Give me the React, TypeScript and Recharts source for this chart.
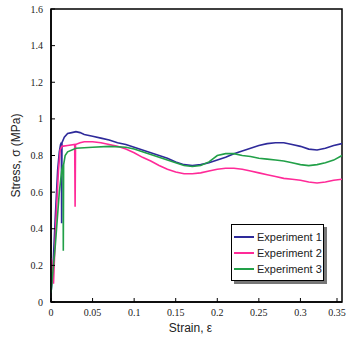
import { LineChart, Line, XAxis, YAxis, ReferenceArea, Label } from "recharts";

const seriesNames = ["Experiment 1", "Experiment 2", "Experiment 3"];
const seriesColors = ["#2e2a9a", "#ff2a98", "#22a048"];

const xTicks = [0, 0.025, 0.05, 0.075, 0.1, 0.125, 0.15, 0.175, 0.2, 0.225, 0.25, 0.275, 0.3, 0.325, 0.35];
const xLabels = ["0", "0.05", "0.1", "0.15", "0.2", "0.25", "0.3", "0.35"];
const yTicks = [0, 0.1, 0.2, 0.3, 0.4, 0.5, 0.6, 0.7, 0.8, 0.9, 1, 1.1, 1.2, 1.3, 1.4, 1.5, 1.6];
const yLabels = ["0", "0.2", "0.4", "0.6", "0.8", "1", "1.2", "1.4", "1.6"];

const exp1Strain = [0, 0.002, 0.005, 0.008, 0.01, 0.0115, 0.0125, 0.0128, 0.0132, 0.016, 0.02, 0.025, 0.03, 0.035, 0.04, 0.05, 0.06, 0.07, 0.08, 0.09, 0.1, 0.11, 0.12, 0.13, 0.14, 0.15, 0.16, 0.17, 0.18, 0.19, 0.2, 0.21, 0.22, 0.23, 0.24, 0.25, 0.26, 0.27, 0.28, 0.29, 0.3, 0.31, 0.32, 0.33, 0.34, 0.35];
const exp1Stress = [0.05, 0.15, 0.45, 0.72, 0.82, 0.86, 0.87, 0.43, 0.87, 0.9, 0.92, 0.925, 0.93, 0.925, 0.915, 0.905, 0.895, 0.885, 0.87, 0.86, 0.845, 0.83, 0.815, 0.8, 0.785, 0.765, 0.75, 0.745, 0.75, 0.76, 0.775, 0.79, 0.81, 0.825, 0.84, 0.855, 0.865, 0.87, 0.87, 0.86, 0.85, 0.835, 0.83, 0.84, 0.855, 0.865];

const exp2Strain = [0, 0.001, 0.003, 0.006, 0.009, 0.011, 0.013, 0.02, 0.0285, 0.029, 0.0295, 0.035, 0.04, 0.05, 0.06, 0.07, 0.08, 0.09, 0.1, 0.11, 0.12, 0.13, 0.14, 0.15, 0.16, 0.17, 0.18, 0.19, 0.2, 0.21, 0.22, 0.23, 0.24, 0.25, 0.26, 0.27, 0.28, 0.29, 0.3, 0.31, 0.32, 0.33, 0.34, 0.35];
const exp2Stress = [0.24, 0.22, 0.1, 0.45, 0.72, 0.83, 0.85, 0.855, 0.86, 0.52, 0.86, 0.87, 0.875, 0.875, 0.87, 0.86, 0.85, 0.835, 0.815, 0.79, 0.77, 0.745, 0.725, 0.71, 0.7, 0.7, 0.705, 0.715, 0.725, 0.73, 0.73, 0.725, 0.715, 0.705, 0.695, 0.685, 0.675, 0.67, 0.665, 0.655, 0.65, 0.655, 0.665, 0.67];

const exp3Strain = [0, 0.005, 0.01, 0.013, 0.0145, 0.0148, 0.0152, 0.017, 0.02, 0.03, 0.05, 0.07, 0.09, 0.1, 0.11, 0.12, 0.13, 0.14, 0.15, 0.16, 0.17, 0.18, 0.19, 0.2, 0.21, 0.22, 0.23, 0.24, 0.25, 0.26, 0.27, 0.28, 0.29, 0.3, 0.31, 0.32, 0.33, 0.34, 0.35];
const exp3Stress = [0.05, 0.3, 0.6, 0.72, 0.75, 0.28, 0.75, 0.8, 0.82, 0.84, 0.845, 0.85, 0.845, 0.835, 0.82, 0.805, 0.79, 0.775, 0.76, 0.745, 0.74, 0.745, 0.765, 0.8, 0.81, 0.81, 0.8, 0.795, 0.785, 0.78, 0.775, 0.77, 0.76, 0.75, 0.745, 0.75, 0.76, 0.775, 0.8];

const toRows = (xs: number[], ys: number[]) => xs.map((x, i) => ({ strain: x, stress: ys[i] }));
const series = [toRows(exp1Strain, exp1Stress), toRows(exp2Strain, exp2Stress), toRows(exp3Strain, exp3Stress)];

const PLOT_LEFT = 51;
const PLOT_BOTTOM = 302;

const fmt = (v: number) => String(Number(v.toFixed(3)));

function XTick({ x, payload }: any) {
  const label = fmt(payload.value);
  return (
    <g>
      <line x1={x} x2={x} y1={PLOT_BOTTOM} y2={PLOT_BOTTOM - 4} stroke="#000" />
      {xLabels.includes(label) && (
        <text x={x} y={316} textAnchor="middle" fontSize={10} fontFamily="Liberation Serif" fill="#222">
          {label}
        </text>
      )}
    </g>
  );
}

function YTick({ y, payload }: any) {
  const label = fmt(payload.value);
  return (
    <g>
      <line x1={PLOT_LEFT} x2={PLOT_LEFT + 4} y1={y} y2={y} stroke="#000" />
      {yLabels.includes(label) && (
        <text x={PLOT_LEFT - 8} y={y + 3.5} textAnchor="end" fontSize={10} fontFamily="Liberation Serif" fill="#222">
          {label}
        </text>
      )}
    </g>
  );
}

export default function App() {
  return (
    <div style={{ position: "absolute", left: 0, top: 0, width: 351, height: 345, background: "#fff" }}>
      <LineChart width={351} height={345} margin={{ top: 9, right: 9, left: 0, bottom: 0 }}>
        <XAxis
          type="number"
          dataKey="strain"
          domain={[0, 0.35]}
          ticks={xTicks}
          tick={<XTick />}
          tickLine={false}
          axisLine={{ stroke: "#000", strokeWidth: 1.5 }}
          height={43}
          allowDataOverflow
        >
          <Label value="Strain, ε" position="insideBottom" offset={13} dx={-6} fontSize={12} fontFamily="Liberation Sans" fill="#222" />
        </XAxis>
        <YAxis
          type="number"
          dataKey="stress"
          domain={[0, 1.6]}
          ticks={yTicks}
          tick={<YTick />}
          tickLine={false}
          axisLine={{ stroke: "#000", strokeWidth: 1.5 }}
          width={51}
          allowDataOverflow
        >
          <Label
            value="Stress, σ (MPa)"
            angle={-90}
            position="insideLeft"
            offset={16}
            style={{ textAnchor: "middle" }}
            fontSize={12}
            fontFamily="Liberation Sans"
            fill="#222"
          />
        </YAxis>
        <ReferenceArea x1={0} x2={0.35} y1={0} y2={1.6} fill="none" stroke="#000" strokeWidth={1.5} />
        {series.map((rows, i) => (
          <Line
            key={seriesNames[i]}
            data={rows}
            dataKey="stress"
            name={seriesNames[i]}
            type="linear"
            stroke={seriesColors[i]}
            strokeWidth={1.6}
            dot={false}
            isAnimationActive={false}
          />
        ))}
      </LineChart>
      <div
        style={{
          position: "absolute",
          left: 231,
          top: 224,
          width: 93,
          height: 57,
          border: "1px solid #000",
          background: "#fff",
          boxShadow: "3px 3px 0 #777",
          fontFamily: "Liberation Sans",
          fontSize: 11,
          color: "#222",
          paddingTop: 4,
          boxSizing: "border-box",
        }}
      >
        {seriesNames.map((name, i) => (
          <div key={name} style={{ display: "flex", alignItems: "center", height: 16 }}>
            <span style={{ display: "inline-block", width: 20, height: 1.5, background: seriesColors[i], marginLeft: 2, marginRight: 3 }} />
            {name}
          </div>
        ))}
      </div>
    </div>
  );
}
